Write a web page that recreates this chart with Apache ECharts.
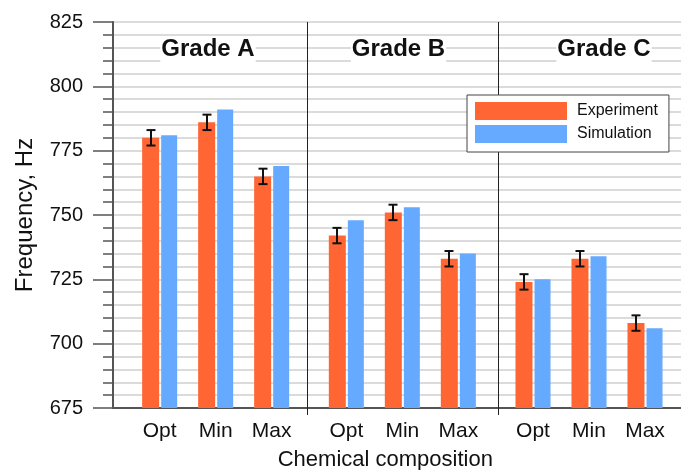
<!DOCTYPE html>
<html>
<head>
<meta charset="utf-8">
<script src="https://cdn.jsdelivr.net/npm/echarts@6/dist/echarts.min.js"></script>
<style>
  html, body { margin: 0; padding: 0; background: #fff; overflow: hidden; }
  #chart { width: 681px; height: 470px; }
</style>
</head>
<body>
<div id="chart"></div>
<script>
// Measured natural frequencies per steel grade and chemical composition
const grades = ['Grade A', 'Grade B', 'Grade C'];
const compositions = ['Opt', 'Min', 'Max'];
const experiment = [780, 786, 765, 742, 751, 733, 724, 733, 708];
const experimentError = [3, 3, 3, 3, 3, 3, 3, 3, 3];
const simulation = [781, 791, 769, 748, 753, 735, 725, 734, 706];
const yTickValues = [675, 700, 725, 750, 775, 800, 825];

// Horizontal layout in "slot" units: three slots per composition, one spare slot between grades
const SLOTS = 31;
const slotOf = (g, i) => 2.5 + g * 10 + i * 3;
const positions = [];
const labels = [];
grades.forEach((_, g) => compositions.forEach((c, i) => {
  positions.push(slotOf(g, i));
  labels.push(c);
}));
const separators = [10.38, 20.63];

const FONT = "'Liberation Sans', Arial, Helvetica, sans-serif";
const ORANGE = '#ff6633';
const BLUE = '#66aaff';
const BAR_W1 = 17, BAR_W2 = 16, BAR_GAP = 0.12;
// horizontal offset of the experiment bar centre from the slot centre
const total = BAR_W1 * (1 + BAR_GAP) + BAR_W2;
const errOffset = -total / 2 + BAR_W1 / 2;

const chart = echarts.init(document.getElementById('chart'), null, { renderer: 'canvas' });

const option = {
  animation: false,
  backgroundColor: '#fff',
  textStyle: { fontFamily: FONT },
  grid: {
    left: 113, top: 22, bottom: 62,
    right: 681 - (113 + SLOTS * 56 / 3),
    containLabel: false,
    outerBoundsMode: 'none'
  },
  legend: {
    data: ['Experiment', 'Simulation'],
    orient: 'vertical',
    left: 467,
    top: 95,
    icon: 'rect',
    itemWidth: 92,
    itemHeight: 18,
    itemGap: 5,
    padding: [7, 11, 9, 8],
    borderColor: '#444',
    borderWidth: 1,
    backgroundColor: '#fff',
    textStyle: { fontSize: 16, color: '#111', fontFamily: FONT, padding: [0, 0, 0, 5] }
  },
  xAxis: {
    type: 'value',
    min: 0,
    max: SLOTS,
    axisLine: { show: true, onZero: false, lineStyle: { color: '#555', width: 2 } },
    axisTick: { show: false },
    splitLine: { show: false },
    axisLabel: {
      customValues: positions,
      formatter: v => {
        const k = positions.findIndex(p => Math.abs(p - v) < 1e-6);
        return k >= 0 ? labels[k] : '';
      },
      fontSize: 21,
      color: '#111',
      margin: 13,
      fontFamily: FONT
    },
    name: 'Chemical composition',
    nameLocation: 'middle',
    nameGap: 41,
    nameTextStyle: { fontSize: 22, color: '#111', fontFamily: FONT, padding: [0, 34, 0, 0] }
  },
  yAxis: {
    type: 'value',
    min: yTickValues[0],
    max: yTickValues[yTickValues.length - 1],
    interval: 25,
    axisLine: { show: true, onZero: false, lineStyle: { color: '#555', width: 2 } },
    axisTick: { show: true, length: 20, lineStyle: { color: '#555', width: 1.5 } },
    minorTick: { show: true, splitNumber: 5, length: 10, lineStyle: { color: '#555', width: 1.5 } },
    splitLine: { show: true, lineStyle: { color: '#cfcfcf', width: 1.5 } },
    minorSplitLine: { show: true, lineStyle: { color: '#cfcfcf', width: 1.5 } },
    axisLabel: { fontSize: 20, color: '#111', margin: 30, fontFamily: FONT },
    name: 'Frequency, Hz',
    nameLocation: 'middle',
    nameGap: 76,
    nameTextStyle: { fontSize: 24, color: '#111', fontFamily: FONT }
  },
  series: [
    {
      name: 'Experiment',
      type: 'bar',
      barWidth: BAR_W1,
      barGap: (BAR_GAP * 100) + '%',
      itemStyle: { color: ORANGE },
      data: positions.map((p, i) => [p, experiment[i]]),
      z: 3
    },
    {
      name: 'Simulation',
      type: 'bar',
      barWidth: BAR_W2,
      barGap: (BAR_GAP * 100) + '%',
      itemStyle: { color: BLUE },
      data: positions.map((p, i) => [p, simulation[i]]),
      z: 3
    },
    {
      // error bars on the experimental values
      name: 'Experiment error',
      type: 'custom',
      z: 5,
      encode: { x: 0, y: 1 },
      data: positions.map((p, i) => [p, experiment[i], experimentError[i]]),
      renderItem: (params, api) => {
        const x = api.value(0), v = api.value(1), e = api.value(2);
        const top = api.coord([x, v + e]);
        const bot = api.coord([x, v - e]);
        const cx = Math.round(top[0] + errOffset);
        const half = 4.5;
        const st = { stroke: '#111', lineWidth: 2 };
        return {
          type: 'group',
          children: [
            { type: 'line', shape: { x1: cx, y1: top[1], x2: cx, y2: bot[1] }, style: st },
            { type: 'line', shape: { x1: cx - half, y1: top[1], x2: cx + half, y2: top[1] }, style: st },
            { type: 'line', shape: { x1: cx - half, y1: bot[1], x2: cx + half, y2: bot[1] }, style: st }
          ]
        };
      }
    },
    {
      // vertical dividers between grades, running a little below the axis
      name: 'Dividers',
      type: 'custom',
      z: 1,
      encode: { x: 0, y: 1 },
      data: separators.map(s => [s, yTickValues[yTickValues.length - 1]]),
      renderItem: (params, api) => {
        const p1 = api.coord([api.value(0), yTickValues[yTickValues.length - 1]]);
        const p2 = api.coord([api.value(0), yTickValues[0]]);
        const x = Math.round(p1[0]) + 0.5;
        return {
          type: 'line',
          shape: { x1: x, y1: p1[1], x2: x, y2: p2[1] + 7 },
          style: { stroke: '#222', lineWidth: 1 }
        };
      }
    }
  ],
  graphic: [208, 398.5, 604].map((cx, g) => ({
    type: 'text',
    z: 100,
    x: cx,
    y: 49,
    style: {
      text: grades[g],
      font: "bold 24px " + FONT,
      fill: '#111',
      align: 'center',
      verticalAlign: 'middle',
      backgroundColor: '#fff',
      padding: [1, 1]
    }
  }))
};

chart.setOption(option);
</script>
</body>
</html>
